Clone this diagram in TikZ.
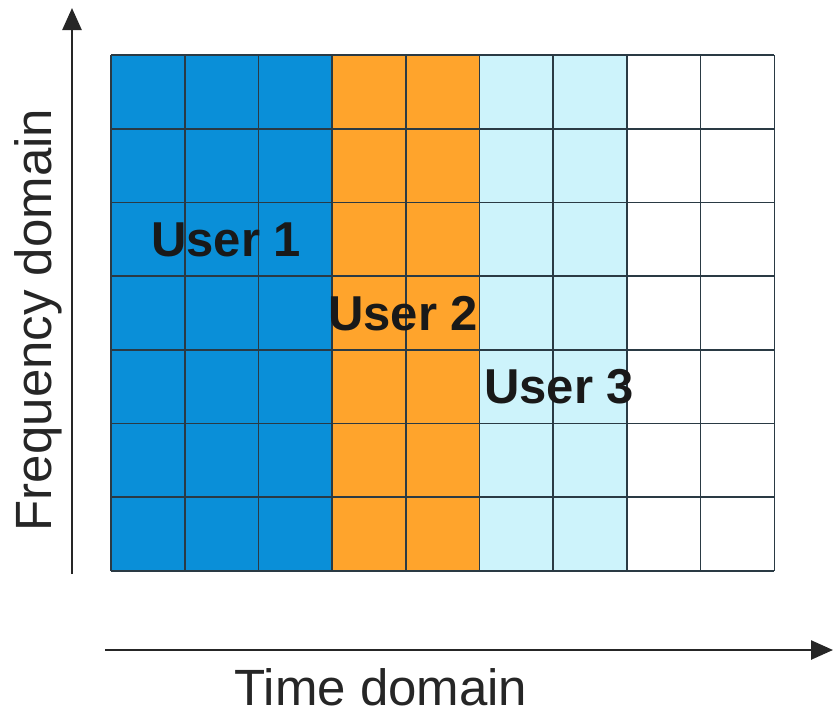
\documentclass[tikz,border=0pt]{standalone}
\usepackage{fontspec}
\setmainfont{Liberation Sans}
\usetikzlibrary{arrows.meta}
\definecolor{ublue}{HTML}{0A8FD8}
\definecolor{uorange}{HTML}{FFA42C}
\definecolor{ucyan}{HTML}{CDF3FB}
\definecolor{gridc}{HTML}{2A3A44}
\tikzset{
  axis/.style={line width=2.6pt, draw=black!85, -{Triangle[length=22pt,width=19pt]}},
  cellgrid/.style={line width=1.6pt, draw=gridc},
  userlabel/.style={font=\fontsize{49}{49}\selectfont\bfseries, text=black!90, inner sep=0pt},
  axislabel/.style={font=\fontsize{51}{51}\selectfont, text=black!85, inner sep=0pt}
}
\begin{document}
\begin{tikzpicture}[x=1pt,y=-1pt]
\useasboundingbox (0,0) rectangle (833,716);
% column fills
\fill[ublue] (111,55) rectangle (332.3,571);
\fill[uorange] (332.3,55) rectangle (479.7,571);
\fill[ucyan] (479.7,55) rectangle (627,571);
% grid
\foreach \i in {0,...,9} {
  \draw[cellgrid] ({111+\i*73.7},55) -- ({111+\i*73.7},571);
}
\foreach \j in {0,...,7} {
  \draw[cellgrid] (111,{55+\j*73.71}) -- (774.3,{55+\j*73.71});
}
% axes
\coordinate (yb) at (72,574);
\coordinate (yt) at (72,8);
\coordinate (xl) at (105,650);
\coordinate (xr) at (833,650);
\draw[axis] (yb) -- (yt);
\draw[axis] (xl) -- (xr);
% labels
\node[userlabel, anchor=west] (u1) at (151,240) {User 1};
\node[userlabel, anchor=west] (u2) at (328,314) {User 2};
\node[userlabel, anchor=west] (u3) at (484,387) {User 3};
\node[axislabel, anchor=base] (td) at (381,705) {Time domain};
\node[axislabel, anchor=base, rotate=90] (fd) at (51,320) {Frequency domain};
\end{tikzpicture}
\end{document}
